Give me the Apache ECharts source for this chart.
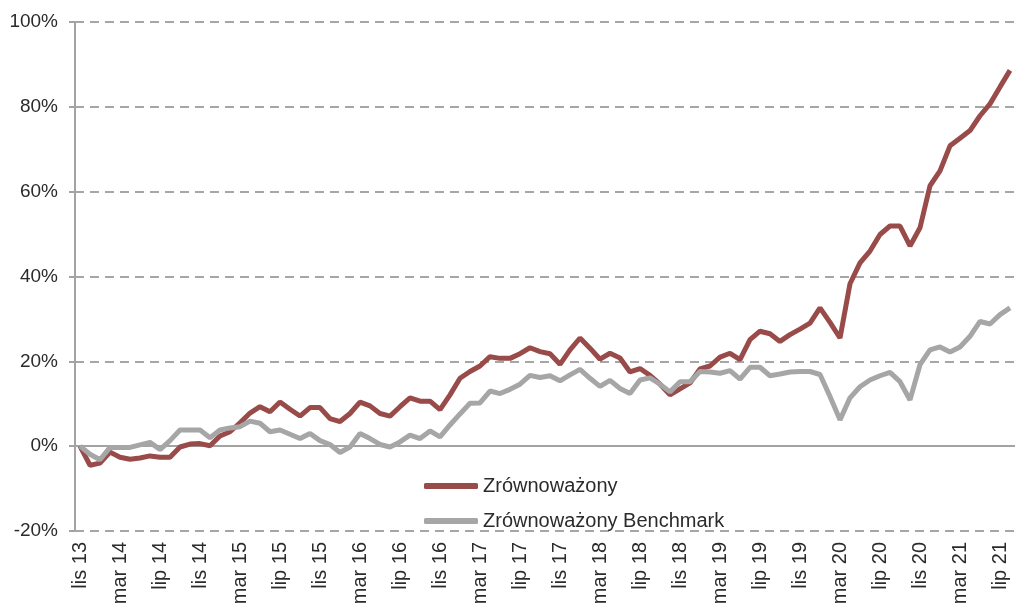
<!DOCTYPE html>
<html>
<head>
<meta charset="utf-8">
<script src="https://cdn.jsdelivr.net/npm/echarts@6/dist/echarts.min.js"></script>
<style>
  html, body { margin: 0; padding: 0; background: #fff; }
  #chart { width: 1015px; height: 608px; }
</style>
</head>
<body>
<div id="chart"></div>
<script>
// miesiące: lis 13 .. sie 21
var months = [
    'lis 13','gru 13',
    'sty 14','lut 14','mar 14','kwi 14','maj 14','cze 14','lip 14','sie 14','wrz 14','paź 14','lis 14','gru 14',
    'sty 15','lut 15','mar 15','kwi 15','maj 15','cze 15','lip 15','sie 15','wrz 15','paź 15','lis 15','gru 15',
    'sty 16','lut 16','mar 16','kwi 16','maj 16','cze 16','lip 16','sie 16','wrz 16','paź 16','lis 16','gru 16',
    'sty 17','lut 17','mar 17','kwi 17','maj 17','cze 17','lip 17','sie 17','wrz 17','paź 17','lis 17','gru 17',
    'sty 18','lut 18','mar 18','kwi 18','maj 18','cze 18','lip 18','sie 18','wrz 18','paź 18','lis 18','gru 18',
    'sty 19','lut 19','mar 19','kwi 19','maj 19','cze 19','lip 19','sie 19','wrz 19','paź 19','lis 19','gru 19',
    'sty 20','lut 20','mar 20','kwi 20','maj 20','cze 20','lip 20','sie 20','wrz 20','paź 20','lis 20','gru 20',
    'sty 21','lut 21','mar 21','kwi 21','maj 21','cze 21','lip 21','sie 21'
];

var seriesNames = ['Zrównoważony', 'Zrównoważony Benchmark'];

// stopa zwrotu w %
var zrownowazony = [
    0, -4.5,
    -4.0, -1.4, -2.6, -3.1, -2.8, -2.3, -2.6, -2.6, -0.2, 0.5, 0.6, 0.1,
    2.4, 3.4, 5.5, 7.8, 9.3, 8.1, 10.4, 8.7, 7.1, 9.1, 9.1, 6.5,
    5.8, 7.7, 10.4, 9.5, 7.7, 7.1, 9.3, 11.4, 10.6, 10.6, 8.6, 12.1,
    16.0, 17.6, 18.9, 21.1, 20.7, 20.7, 21.8, 23.2, 22.3, 21.8, 19.3, 22.7,
    25.5, 23.1, 20.5, 21.9, 20.8, 17.5, 18.3, 16.7, 14.6, 12.1, 13.5, 14.9,
    18.2, 18.9, 21.0, 21.9, 20.4, 25.1, 27.1, 26.5, 24.7, 26.3, 27.6, 29.0,
    32.6, 29.2, 25.5, 38.3, 43.2, 46.0, 49.9, 51.9, 51.9, 47.2, 51.5, 61.4,
    64.9, 70.8, 72.6, 74.4, 77.9, 80.7, 84.7, 88.6
];

var benchmark = [
    0, -1.9,
    -3.2, -0.3, -0.3, -0.3, 0.3, 0.9, -0.8, 1.3, 3.8, 3.8, 3.8, 2.0,
    3.8, 4.3, 4.6, 5.9, 5.4, 3.4, 3.8, 2.8, 1.8, 3.0, 1.3, 0.4,
    -1.5, -0.2, 3.0, 1.8, 0.4, -0.2, 1.0, 2.6, 1.8, 3.6, 2.2, 5.0,
    7.6, 10.1, 10.2, 13.0, 12.4, 13.4, 14.6, 16.7, 16.2, 16.6, 15.4, 16.8,
    18.1, 16.0, 14.1, 15.5, 13.6, 12.4, 15.6, 16.1, 14.6, 12.8, 15.2, 15.2,
    17.6, 17.5, 17.2, 17.8, 15.8, 18.6, 18.6, 16.6, 17.0, 17.5, 17.6, 17.6,
    16.9, 11.7, 6.2, 11.4, 14.0, 15.6, 16.6, 17.4, 15.2, 10.9, 19.2, 22.7,
    23.4, 22.2, 23.4, 25.9, 29.4, 28.8, 31.0, 32.6
];

var yMin = -20, yMax = 100, yStep = 20;

var axisGrey = '#a3a3a3';
var textColor = '#2b2b2b';
var fontName = '"Liberation Sans", Arial, sans-serif';

var myChart = echarts.init(document.getElementById('chart'));
var option = {
    animation: false,
    color: ['#984b49', '#a6a6a6'],
    grid: {
        left: 75,
        width: 946,
        top: 22,
        bottom: 77
    },
    legend: {
        orient: 'vertical',
        left: 419,
        top: 471,
        itemWidth: 54,
        itemHeight: 6,
        itemGap: 15,
        icon: 'roundRect',
        textStyle: {
            color: textColor,
            fontSize: 20,
            fontFamily: fontName
        },
        data: seriesNames
    },
    xAxis: [
        {
            type: 'category',
            data: months,
            boundaryGap: true,
            axisLine: {
                onZero: true,
                lineStyle: { color: axisGrey, width: 2 }
            },
            axisTick: {
                interval: 3,
                length: 6,
                lineStyle: { color: axisGrey, width: 2 }
            },
            axisLabel: { show: false },
            splitLine: { show: false }
        },
        {
            type: 'category',
            data: months,
            position: 'bottom',
            boundaryGap: true,
            axisLine: { show: false, onZero: false },
            axisTick: { show: false },
            axisLabel: {
                interval: 3,
                rotate: 90,
                margin: 11,
                color: textColor,
                fontSize: 20,
                fontFamily: fontName
            },
            splitLine: { show: false }
        }
    ],
    yAxis: {
        type: 'value',
        min: yMin,
        max: yMax,
        interval: yStep,
        axisLine: {
            show: true,
            lineStyle: { color: axisGrey, width: 2 }
        },
        axisTick: {
            show: true,
            length: 6,
            lineStyle: { color: axisGrey, width: 2 }
        },
        axisLabel: {
            formatter: '{value}%',
            margin: 17,
            color: textColor,
            fontSize: 19,
            fontFamily: fontName
        },
        splitLine: {
            lineStyle: {
                color: '#a6a6a6',
                width: 2,
                type: [9, 6]
            }
        }
    },
    series: [
        {
            name: seriesNames[0],
            type: 'line',
            xAxisIndex: 0,
            data: zrownowazony,
            symbol: 'none',
            lineStyle: { width: 5, color: '#984b49' }
        },
        {
            name: seriesNames[1],
            type: 'line',
            xAxisIndex: 0,
            data: benchmark,
            symbol: 'none',
            lineStyle: { width: 5, color: '#a6a6a6' }
        }
    ]
};
myChart.setOption(option);
</script>
</body>
</html>
